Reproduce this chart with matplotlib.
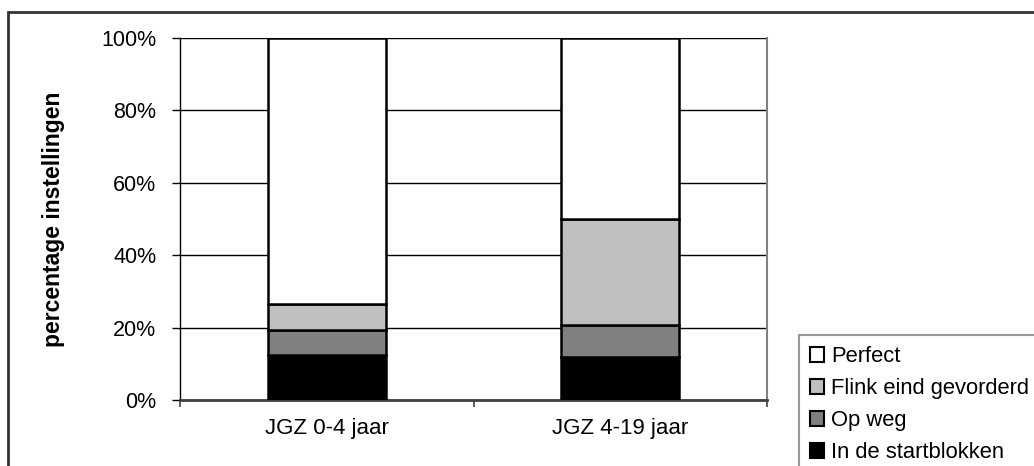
import matplotlib.pyplot as plt
from matplotlib.patches import Patch, Rectangle
import numpy as np

plt.rcParams['font.family'] = ['Liberation Sans', 'DejaVu Sans']

# data (percent of institutions)
groups = ['JGZ 0-4 jaar', 'JGZ 4-19 jaar']
series = ['In de startblokken', 'Op weg', 'Flink eind gevorderd', 'Perfect']
startblokken = [12.4, 12.0]
op_weg = [7.0, 8.6]
flink = [7.0, 29.4]
perfect = [73.6, 50.0]
colors = ['#000000', '#808080', '#c0c0c0', '#ffffff']

fig = plt.figure(figsize=(10.34, 4.66), dpi=100)
ax = fig.add_axes([180/1034, 1-400/466, 587/1034, 362/466])

x = np.arange(len(groups))
bottom = np.zeros(len(groups))
for vals, c in zip([startblokken, op_weg, flink, perfect], colors):
    ax.bar(x, vals, width=0.402, bottom=bottom, color=c, edgecolor='black',
           linewidth=1.8, zorder=3)
    bottom += np.array(vals)

ax.set_xlim(-0.5, 1.5)
ax.set_ylim(0, 100)
ax.set_yticks([0, 20, 40, 60, 80, 100])
ax.set_yticklabels([f'{v}%' for v in [0, 20, 40, 60, 80, 100]])
ax.yaxis.grid(True, color='black', linewidth=1.0, zorder=0)
ax.set_axisbelow(True)

# category ticks sit between the groups, labels under each bar
ax.set_xticks([-0.5, 0.5, 1.5])
ax.set_xticklabels([])
ax.set_xticks(x, minor=True)
ax.set_xticklabels(groups, minor=True, fontsize=16)
ax.tick_params(axis='x', which='minor', length=0, pad=13)
ax.tick_params(axis='x', which='major', length=5, width=1.2, color='#404040')
ax.tick_params(axis='y', length=6, width=1, labelsize=15.5, pad=11)

ax.set_ylabel('percentage instellingen', fontsize=16.5, fontweight='bold', labelpad=26)

ax.spines['top'].set_visible(False)
ax.spines['left'].set_color('black')
ax.spines['left'].set_linewidth(1.0)
ax.spines['bottom'].set_color('#404040')
ax.spines['bottom'].set_linewidth(2.0)
ax.spines['right'].set_color('#808080')
ax.spines['right'].set_linewidth(1.5)

# legend, Perfect on top
handles = [Patch(facecolor=c, edgecolor='black', linewidth=1.5) for c in colors]
leg = fig.legend(handles[::-1], series[::-1], loc='upper left',
                 bbox_to_anchor=(799/1034, 1-335/466), fontsize=15.8,
                 frameon=True, fancybox=False, borderaxespad=0,
                 handlelength=0.65, handleheight=0.65, handletextpad=0.3,
                 labelspacing=0.5, borderpad=0.5)
leg.get_frame().set_edgecolor('#808080')
leg.get_frame().set_linewidth(1.5)

# outer chart frame, cut off at right and bottom
fig.patches.append(Rectangle((8/1034, -0.1), 1.2, 1.1 - 12/466,
                             transform=fig.transFigure, fill=False,
                             edgecolor='#333333', linewidth=2.0))

fig.savefig('out.png', dpi=100)
